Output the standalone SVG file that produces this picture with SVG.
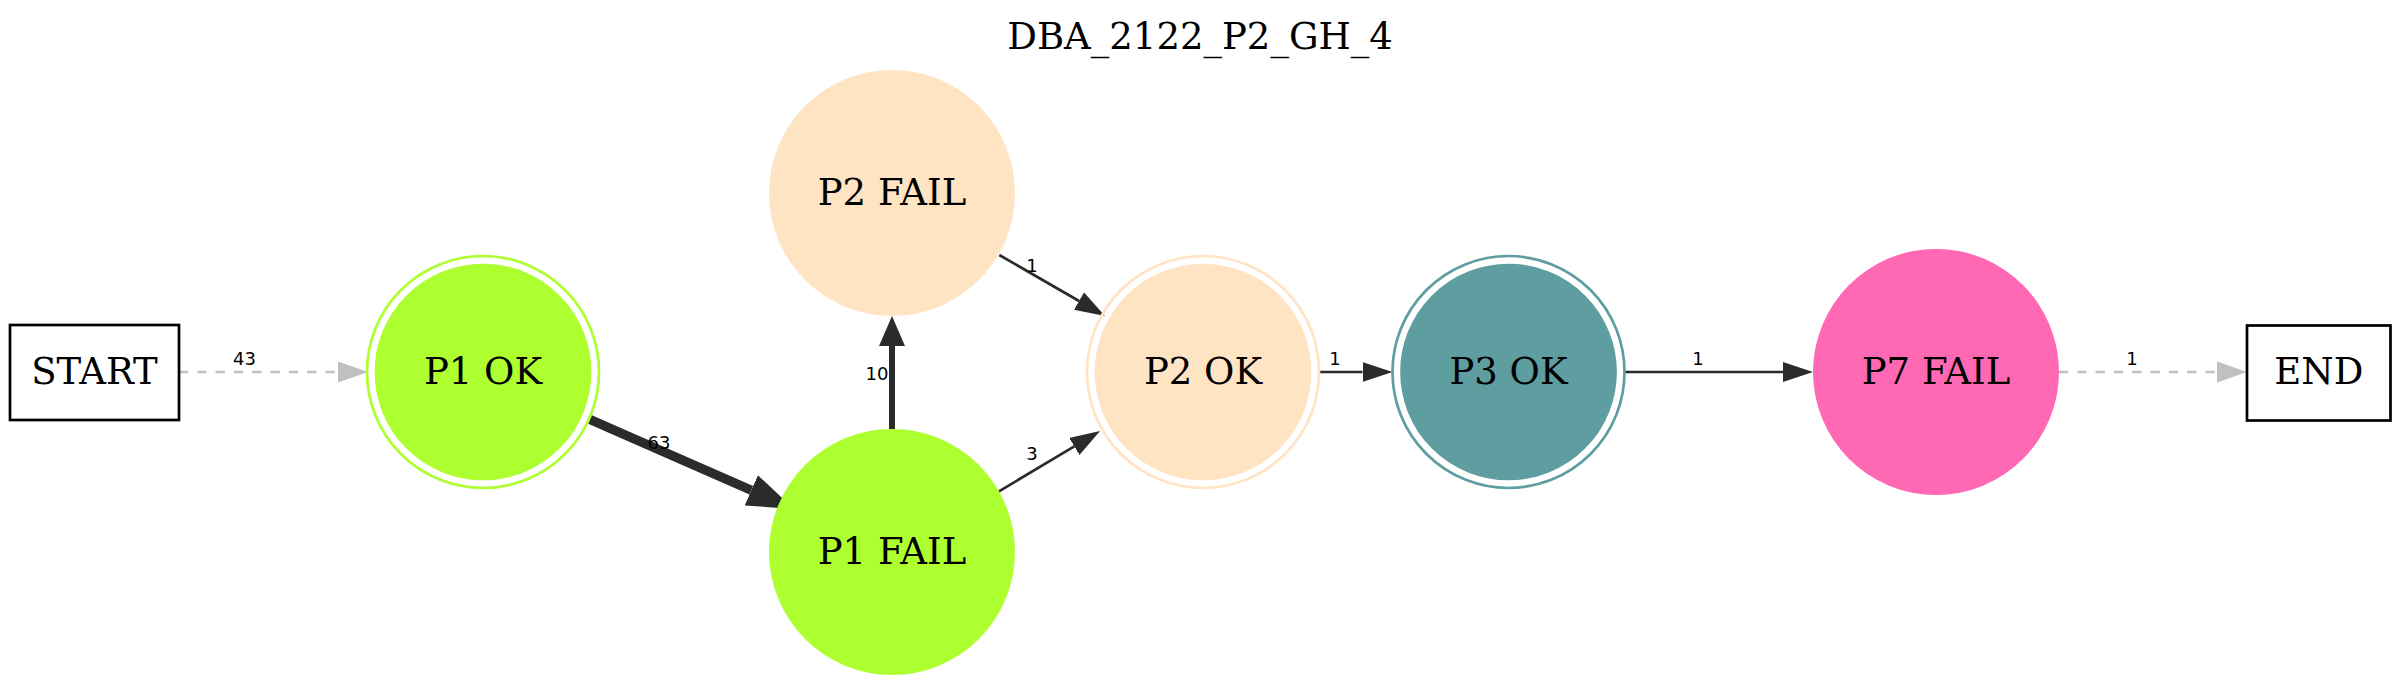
<svg xmlns="http://www.w3.org/2000/svg" width="2400" height="686" viewBox="0 0 2400 686">
<style>
.title{font-family:"DejaVu Serif",serif;font-size:37px;fill:#000;text-anchor:middle}
.ntext{font-family:"DejaVu Serif",serif;font-size:37px;fill:#000;text-anchor:middle}
.elabel{font-family:"DejaVu Sans",sans-serif;font-size:18px;fill:#000;text-anchor:middle}
.box{fill:#fff;stroke:#000;stroke-width:2.7}
.e{fill:none;stroke:#2b2b2b;stroke-width:2.7}
.dash{fill:none;stroke:#c0c0c0;stroke-width:2.7;stroke-dasharray:9.3,9}
</style>
<defs>
<marker id="aThin" markerUnits="userSpaceOnUse" markerWidth="30" markerHeight="20" refX="0" refY="10" orient="auto"><path d="M0,0 L30,10 L0,20 z" fill="#2b2b2b"/></marker>
<marker id="aMed" markerUnits="userSpaceOnUse" markerWidth="30" markerHeight="26" refX="0" refY="13" orient="auto"><path d="M0,0 L30,13 L0,26 z" fill="#2b2b2b"/></marker>
<marker id="aThick" markerUnits="userSpaceOnUse" markerWidth="47" markerHeight="33" refX="0" refY="16.5" orient="auto"><path d="M0,0 L46.6,16.5 L0,33 z" fill="#2b2b2b"/></marker>
<marker id="aGray" markerUnits="userSpaceOnUse" markerWidth="30" markerHeight="21" refX="0" refY="10.5" orient="auto"><path d="M0,0 L30,10.5 L0,21 z" fill="#c0c0c0"/></marker>
</defs>
<rect width="2400" height="686" fill="#fff"/>
<text class="title" x="1200" y="49">DBA_2122_P2_GH_4</text>
<g id="connectors">
<path class="dash" d="M179,372 L338,372" marker-end="url(#aGray)"/>
<path class="e" style="stroke-width:9.3" d="M590,419.5 L751.3,490.3" marker-end="url(#aThick)"/>
<path class="e" style="stroke-width:6" d="M892,429 L892,346" marker-end="url(#aMed)"/>
<path class="e" d="M999,491.3 L1074.3,446.4" marker-end="url(#aThin)"/>
<path class="e" d="M999.3,255 L1079,301" marker-end="url(#aThin)"/>
<path class="e" d="M1319,372 L1362.5,372" marker-end="url(#aThin)"/>
<path class="e" d="M1625,372 L1783,372" marker-end="url(#aThin)"/>
<path class="dash" d="M2059,372 L2217,372" marker-end="url(#aGray)"/>
<text class="elabel" x="244.5" y="365">43</text>
<text class="elabel" x="659" y="449">63</text>
<text class="elabel" x="877" y="380">10</text>
<text class="elabel" x="1032" y="460">3</text>
<text class="elabel" x="1032" y="272">1</text>
<text class="elabel" x="1335" y="365">1</text>
<text class="elabel" x="1698" y="365">1</text>
<text class="elabel" x="2132" y="365">1</text>
</g>
<g id="start">
<rect class="box" x="10" y="325" width="169" height="95"/>
<text class="ntext" x="94.5" y="384">START</text>
</g>
<g id="p1ok">
<circle cx="483" cy="372" r="116" fill="none" stroke="#adff2f" stroke-width="2.7"/>
<circle cx="483" cy="372" r="107" fill="#adff2f" stroke="#adff2f" stroke-width="2.7"/>
<text class="ntext" x="483" y="384">P1 OK</text>
</g>
<g id="p1fail">
<circle cx="892" cy="552" r="123" fill="#adff2f"/>
<text class="ntext" x="892" y="564">P1 FAIL</text>
</g>
<g id="p2fail">
<circle cx="892" cy="193" r="123" fill="#ffe4c4"/>
<text class="ntext" x="892" y="205">P2 FAIL</text>
</g>
<g id="p2ok">
<circle cx="1203" cy="372" r="116" fill="none" stroke="#ffe4c4" stroke-width="2.7"/>
<circle cx="1203" cy="372" r="107" fill="#ffe4c4" stroke="#ffe4c4" stroke-width="2.7"/>
<text class="ntext" x="1203" y="384">P2 OK</text>
</g>
<g id="p3ok">
<circle cx="1508.5" cy="372" r="116" fill="none" stroke="#5f9ea0" stroke-width="2.7"/>
<circle cx="1508.5" cy="372" r="107" fill="#5f9ea0" stroke="#5f9ea0" stroke-width="2.7"/>
<text class="ntext" x="1508.5" y="384">P3 OK</text>
</g>
<g id="p7fail">
<circle cx="1936" cy="372" r="123" fill="#ff69b4"/>
<text class="ntext" x="1936" y="384">P7 FAIL</text>
</g>
<g id="end">
<rect class="box" x="2247" y="325.5" width="143.5" height="95"/>
<text class="ntext" x="2318.8" y="384">END</text>
</g>
</svg>
